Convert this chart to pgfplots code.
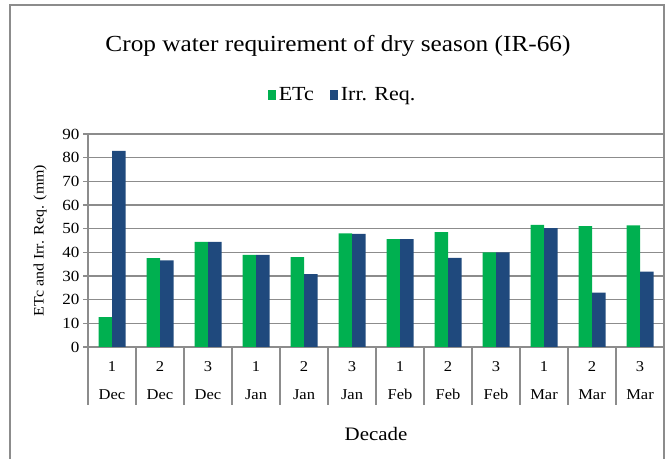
\documentclass[border=0pt]{standalone}
\usepackage{fontspec}
\setmainfont{Liberation Serif}[FakeStretch=1.1]
\usepackage{pgfplots}
\pgfplotsset{compat=1.18}
\definecolor{etc}{HTML}{00B050}
\definecolor{irr}{HTML}{1F497D}
\definecolor{gridg}{HTML}{8C8C8C}
\begin{document}
\begin{tikzpicture}[x=1bp,y=1bp]
\useasboundingbox (0,0) rectangle (666,459);
\draw[gridg, line width=1.5bp] (10,-20) -- (10,454) -- (664,454) -- (664,-20);
\node[font=\fontsize{23bp}{27bp}\selectfont] at (338,413) {Crop water requirement of dry season (IR-66)};
\begin{axis}[
  at={(88bp,112bp)}, anchor=south west,
  scale only axis, width=576bp, height=213bp,
  xmin=-0.5, xmax=11.5, ymin=0, ymax=90,
  ybar=0pt, bar width=13.5bp,
  xtick={0,...,11},
  xticklabels={{1\\Dec},{2\\Dec},{3\\Dec},{1\\Jan},{2\\Jan},{3\\Jan},{1\\Feb},{2\\Feb},{3\\Feb},{1\\Mar},{2\\Mar},{3\\Mar}},
  xticklabel style={align=center, anchor=north, yshift=-6bp, font=\fontsize{15bp}{28.5bp}\selectfont},
  major x tick style={draw=none},
  extra x ticks={-0.5,0.5,...,11.5},
  extra x tick labels={},
  extra x tick style={grid=none, tick align=outside, major tick length=58bp, major x tick style={draw=gridg, line width=1.5bp}},
  ytick={0,10,...,90},
  yticklabel style={font=\fontsize{15.5bp}{17bp}\selectfont},
  /pgf/number format/assume math mode=true,
  tick pos=left, tick align=outside,
  major tick length=5bp,
  every tick/.style={gridg, line width=1.5bp},
  ymajorgrids, grid style={gridg, line width=1.5bp},
  axis line style={gridg, line width=1.5bp},
  xlabel={Decade},
  xlabel style={at={(axis description cs:0.5,0)}, anchor=center, yshift=-87bp, font=\fontsize{19bp}{22bp}\selectfont},
  ylabel={ETc and Irr. Req. (mm)},
  ylabel style={at={(axis description cs:-0.0833,0.5)}, anchor=center, font=\fontsize{14.5bp}{16bp}\selectfont},
  legend columns=2,
  legend style={at={(axis description cs:0.442,1.0)}, anchor=center, yshift=39bp, draw=none, fill=none,
    font=\fontsize{20bp}{22bp}\selectfont, /tikz/every even column/.append style={column sep=14bp},
    /tikz/every odd column/.append style={column sep=1bp}},
  legend image code/.code={\fill[#1] (0bp,-5bp) rectangle (8bp,5bp);},
]
\addplot[fill=etc, draw=none] coordinates {(0,12.6) (1,37.6) (2,44.4) (3,38.9) (4,38.0) (5,48.0) (6,45.6) (7,48.5) (8,40.0) (9,51.6) (10,51.1) (11,51.4)};
\addplot[fill=irr, draw=none] coordinates {(0,82.9) (1,36.6) (2,44.4) (3,38.9) (4,30.8) (5,47.8) (6,45.6) (7,37.7) (8,40.0) (9,50.2) (10,23.0) (11,31.8)};
\legend{ETc, Irr. Req.}
\end{axis}
\end{tikzpicture}
\end{document}
